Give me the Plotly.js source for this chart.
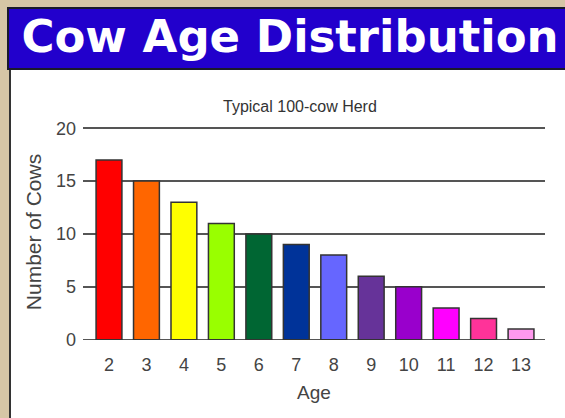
<!DOCTYPE html>
<html>
<head>
<meta charset="utf-8">
<script src="https://cdn.plot.ly/plotly-3.0.1.min.js"></script>
<style>
html,body{margin:0;padding:0;background:#d6c6a6;}
#chart{width:565px;height:418px;}
</style>
</head>
<body>
<div id="chart"></div>
<script>
const ages = ['2','3','4','5','6','7','8','9','10','11','12','13'];
const cows = [17,15,13,11,10,9,8,6,5,3,2,1];
const barColors = ['#ff0000','#ff6600','#ffff00','#99ff00','#006633','#003399',
                   '#6666ff','#663399','#9900cc','#ff00ff','#ff3399','#ff99ee'];
const yTicks = [0,5,10,15,20];

// plot-area geometry in pixels (for decoration placement)
const M = {l: 83, r: 20, t: 124, b: 78};
const W = 565, H = 418;
const PW = W - M.l - M.r, PH = H - M.t - M.b;
const px = v => (v - M.l) / PW;
const py = v => (H - M.b - v) / PH;

const trace = {
  type: 'bar',
  x: ages,
  y: cows,
  marker: {color: barColors, line: {color: '#333333', width: 1.5}},
  hoverinfo: 'x+y'
};

const layout = {
  width: W,
  height: H,
  margin: M,
  paper_bgcolor: '#d6c6a6',
  plot_bgcolor: 'rgba(0,0,0,0)',
  bargap: 0.31,
  showlegend: false,
  font: {family: 'Liberation Sans, Arial, sans-serif', color: '#444'},
  title: {
    text: '<b>Cow Age Distribution</b>',
    font: {family: 'DejaVu Sans, sans-serif', size: 45, color: '#ffffff'},
    x: 290/565, xanchor: 'center', xref: 'container',
    y: 1 - 36/418, yanchor: 'middle', yref: 'container'
  },
  xaxis: {
    type: 'category',
    range: [-0.694, 11.64],
    showgrid: false,
    zeroline: false,
    showline: false,
    ticks: '',
    tickfont: {size: 18, color: '#444'},
    ticklabelstandoff: 12,
    title: {text: 'Age', font: {size: 19, color: '#444'}, standoff: 11}
  },
  yaxis: {
    range: [-0.03, 20.4],
    tickvals: yTicks,
    showgrid: true,
    gridcolor: '#555555',
    gridwidth: 1.5,
    zeroline: true,
    zerolinecolor: '#555555',
    zerolinewidth: 1.5,
    showline: false,
    ticks: '',
    tickfont: {size: 18, color: '#444'},
    ticklabelstandoff: 6,
    title: {text: 'Number of Cows', font: {size: 21, color: '#444'}, standoff: 8}
  },
  shapes: [
    {type: 'rect', xref: 'paper', yref: 'paper', layer: 'below',
     x0: px(10), x1: px(570), y0: py(425), y1: py(69),
     fillcolor: '#ffffff', line: {color: '#333333', width: 2}},
    {type: 'rect', xref: 'paper', yref: 'paper', layer: 'below',
     x0: px(8), x1: px(570), y0: py(69), y1: py(8),
     fillcolor: '#2200cc', line: {color: '#1a1a2a', width: 2}}
  ],
  annotations: [
    {text: 'Typical 100-cow Herd', xref: 'paper', yref: 'paper',
     x: px(300), y: py(96), showarrow: false,
     font: {size: 16, color: '#333'}}
  ]
};

Plotly.newPlot('chart', [trace], layout, {displayModeBar: false, staticPlot: true});
</script>
</body>
</html>
